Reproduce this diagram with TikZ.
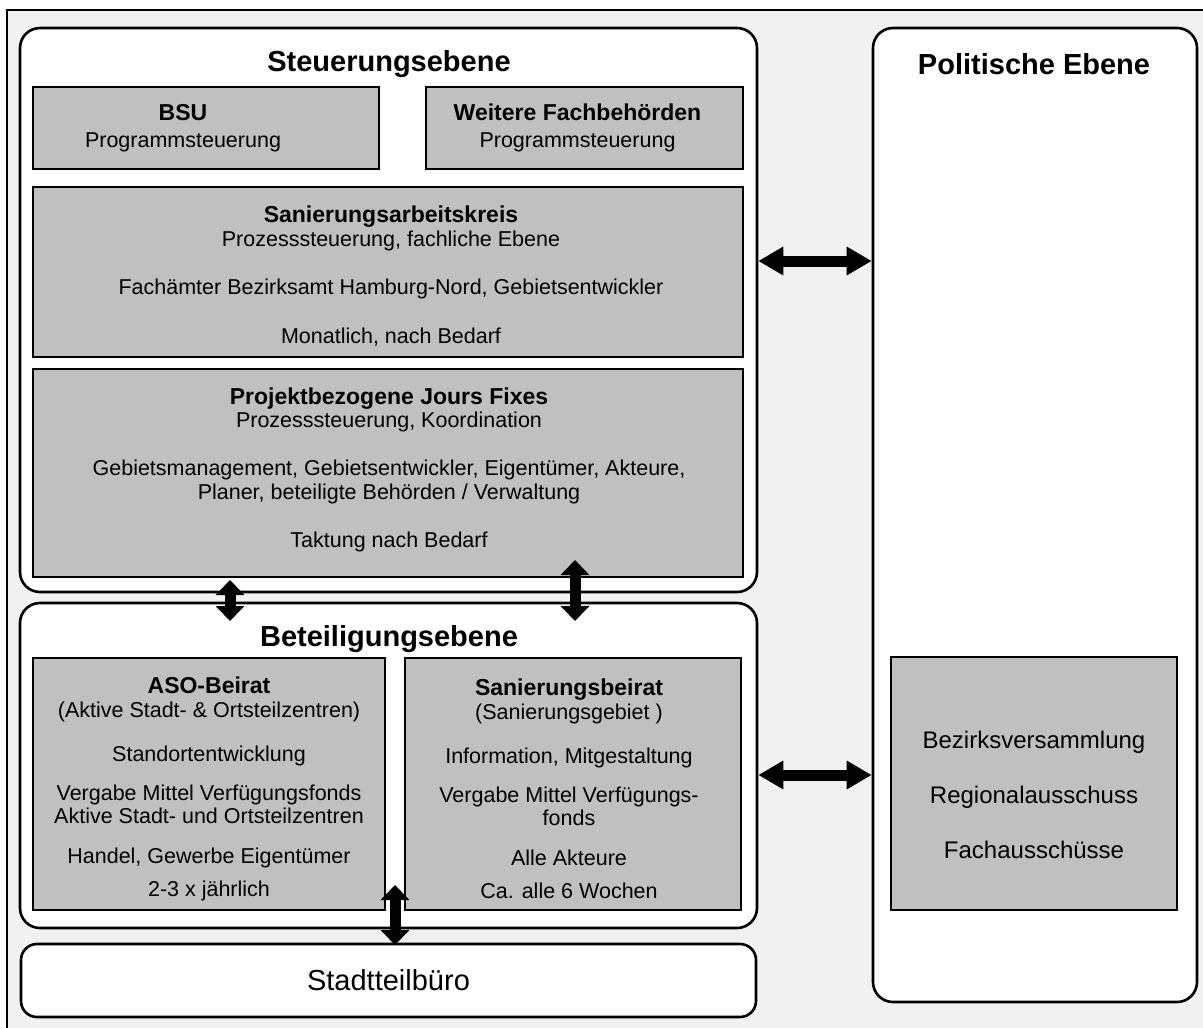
\documentclass[tikz,border=0pt]{standalone}
\usepackage{fontspec}
\setmainfont{Liberation Sans}
\usetikzlibrary{arrows.meta}
\definecolor{boxgray}{RGB}{192,192,192}
\definecolor{bggray}{RGB}{241,241,241}
\newcommand\bodyfont{\fontsize{21.5}{23.5}\selectfont}
\newcommand\hdr[1]{{\fontsize{23}{23.5}\selectfont\bfseries #1}}
\begin{document}
\begin{tikzpicture}[x=1pt,y=-1pt,
  levelbox/.style={draw=black, line width=2.6pt, fill=white, rounded corners=20pt, inner sep=0pt},
  graybox/.style={draw=black, line width=2.6pt, fill=boxgray, inner sep=0pt},
  graytext/.style={align=center, inner sep=0pt, font=\bodyfont},
  titletext/.style={font=\fontsize{29}{30}\selectfont\bfseries, inner sep=0pt},
  harrow/.style={line width=11pt, {Triangle[width=27pt,length=25pt]}-{Triangle[width=27pt,length=25pt]}},
  varrow/.style={line width=11pt, {Triangle[width=28pt,length=15pt]}-{Triangle[width=28pt,length=15pt]}}
]
\useasboundingbox (0,0) rectangle (1203,1028);
\fill[white] (0,0) rectangle (1203,1028);
\fill[bggray] (7,10) rectangle (1203,1028);
\draw[line width=2.6pt] (7,1028) -- (7,10) -- (1203,10);

% level containers
\node[levelbox, minimum width=737pt, minimum height=564pt] (steuer) at (388.5,310) {};
\node[levelbox, minimum width=737pt, minimum height=325pt] (beteil) at (388.5,765.5) {};
\node[levelbox, minimum width=324pt, minimum height=974pt] (polit) at (1035,515) {};
\node[levelbox, rounded corners=16pt, minimum width=735pt, minimum height=73pt, font=\fontsize{29}{30}\selectfont] (stadt) at (388.5,980.5) {Stadtteilbüro};

% titles
\node[titletext] (tsteuer) at (389,64) {Steuerungsebene};
\node[titletext] (tbeteil) at (389,639) {Beteiligungsebene};
\node[titletext] (tpolit) at (1034,64) {Politische Ebene};

% Steuerungsebene boxes
\node[graybox, minimum width=346pt, minimum height=82pt] (bsu) at (206,128) {};
\node[graytext] (bsut) at ([shift={(-23,0)}]bsu.center)
  {\hdr{BSU}\\[3pt]Programmsteuerung};
\node[graybox, minimum width=317pt, minimum height=82pt] (weitere) at (584.5,128) {};
\node[graytext] (weiteret) at ([shift={(-7,0)}]weitere.center)
  {\hdr{Weitere Fachbehörden}\\[3pt]Programmsteuerung};
\node[graybox, minimum width=710pt, minimum height=170pt] (sak) at (388,272) {};
\node[graytext] (sakt) at ([shift={(3,4)}]sak.center)
  {\hdr{Sanierungsarbeitskreis}\\Prozesssteuerung, fachliche Ebene\\[25pt]
   Fachämter Bezirksamt Hamburg-Nord, Gebietsentwickler\\[25pt]
   Monatlich, nach Bedarf};
\node[graybox, minimum width=710pt, minimum height=208pt] (jf) at (388,473) {};
\node[graytext] (jft) at ([shift={(1,-3)}]jf.center)
  {\hdr{Projektbezogene Jours Fixes}\\Prozesssteuerung, Koordination\\[24.5pt]
   Gebietsmanagement, Gebietsentwickler, Eigentümer, Akteure,\\
   Planer, beteiligte Behörden / Verwaltung\\[25pt]
   Taktung nach Bedarf};

% Beteiligungsebene boxes
\node[graybox, minimum width=352pt, minimum height=252pt] (aso) at (209,784) {};
\node[graytext] (asot) at ([shift={(0,5)}]aso.center)
  {\hdr{ASO-Beirat}\\(Aktive Stadt- \& Ortsteilzentren)\\[20.5pt]
   Standortentwicklung\\[15.5pt]
   Vergabe Mittel Verfügungsfonds\\Aktive Stadt- und Ortsteilzentren\\[16.5pt]
   Handel, Gewerbe Eigentümer\\[9.5pt]
   2-3 x jährlich};
\node[graybox, minimum width=336pt, minimum height=252pt] (sb) at (573,784) {};
\node[graytext] (sbt) at ([shift={(-4,5)}]sb.center)
  {\hdr{Sanierungsbeirat}\\(Sanierungsgebiet )\\[20.5pt]
   Information, Mitgestaltung\\[15.5pt]
   Vergabe Mittel Verfügungs-\\fonds\\[16.5pt]
   Alle Akteure\\[9.5pt]
   Ca. alle 6 Wochen};

% Politische Ebene box
\node[graybox, minimum width=286pt, minimum height=253pt] (bv) at (1034,783.5) {};
\node[graytext, font=\fontsize{24}{26}\selectfont] (bvt) at ([shift={(0,11)}]bv.center)
  {Bezirksversammlung\\[29pt]Regionalausschuss\\[29pt]Fachausschüsse};

% arrows
\coordinate (h1a) at (steuer.east |- 0,261);
\coordinate (h1b) at (polit.west |- 0,261);
\coordinate (h2a) at (beteil.east |- 0,775);
\coordinate (h2b) at (polit.west |- 0,775);
\draw[harrow] (h1a) -- (h1b);
\draw[harrow] (h2a) -- (h2b);
\coordinate (v1a) at (230,580);
\coordinate (v1b) at (230,621);
\coordinate (v2a) at (575,560);
\coordinate (v2b) at (575,621);
\coordinate (v3a) at (395,885);
\coordinate (v3b) at (395,945);
\draw[varrow] (v1a) -- (v1b);
\draw[varrow] (v2a) -- (v2b);
\draw[varrow] (v3a) -- (v3b);
\end{tikzpicture}
\end{document}
